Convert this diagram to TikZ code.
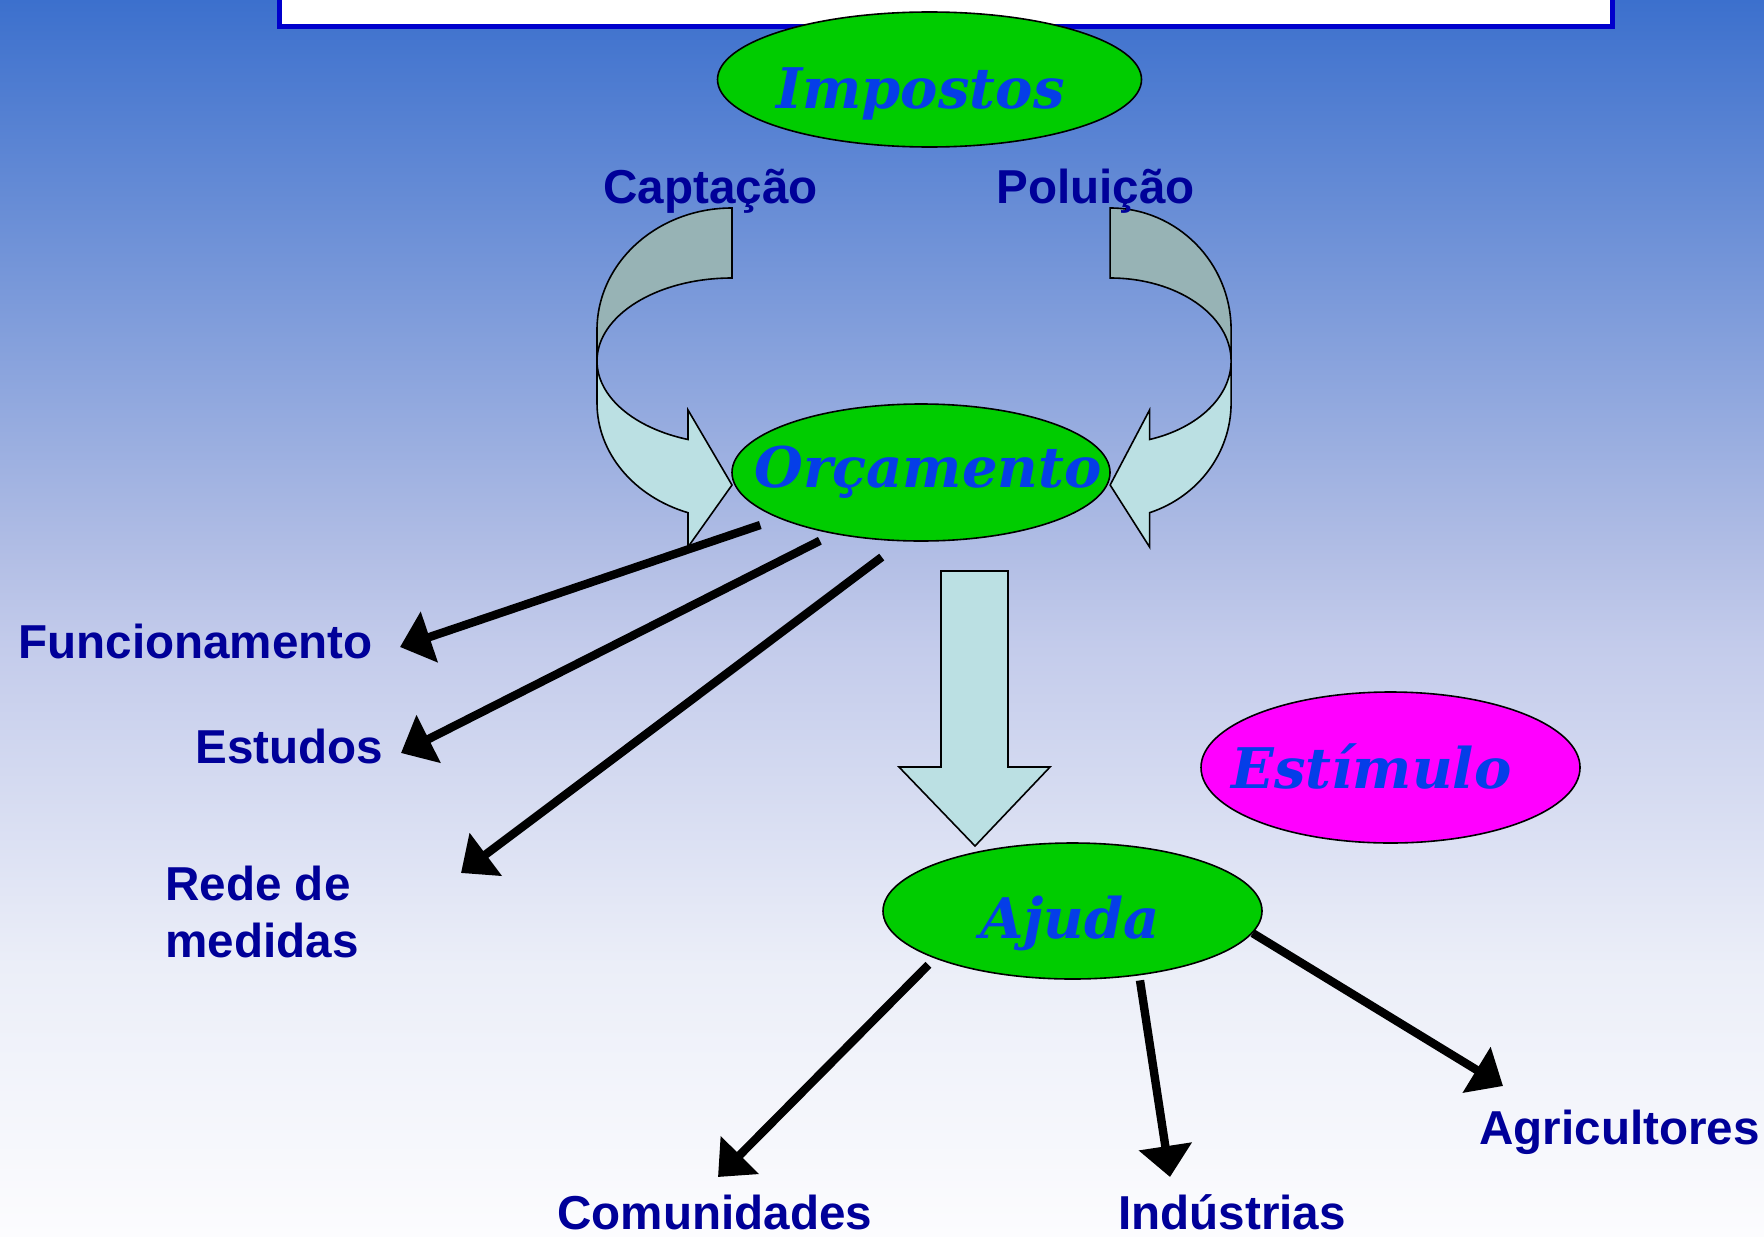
\documentclass[tikz,border=0pt]{standalone}
\usepackage{fontspec}
\usepackage{tikz}
\usetikzlibrary{shapes.geometric,arrows.meta}

\newfontfamily\rotfont{Liberation Sans}
\newfontfamily\bolhafont{DejaVu Serif}

\definecolor{bgA}{RGB}{60,112,205}
\definecolor{bgB}{RGB}{178,190,229}
\definecolor{bgC}{RGB}{195,203,235}
\definecolor{bgD}{RGB}{235,238,248}
\definecolor{bgE}{RGB}{252,252,254}
\definecolor{borda}{RGB}{0,0,204}
\definecolor{verde}{RGB}{0,204,0}
\definecolor{rosa}{RGB}{255,0,255}
\definecolor{claro}{RGB}{187,224,227}
\definecolor{escuro}{RGB}{151,179,181}
\definecolor{azulrot}{RGB}{0,0,153}
\definecolor{azultxt}{RGB}{5,62,232}

\pgfdeclareverticalshading{fundo}{100bp}{color(0bp)=(bgE); color(25bp)=(bgE); color(36bp)=(bgD); color(49bp)=(bgC); color(52.5bp)=(bgB); color(75bp)=(bgA); color(100bp)=(bgA)}

% seta curva (lado esquerdo), o lado direito e espelhado
\newcommand{\setacurva}{%
  \filldraw[fill=escuro] (732,208) .. controls (657.4,208) and (597,262.6) .. (597,330) -- (597,361) .. controls (597,315.2) and (657.4,278) .. (732,278) -- cycle;
  \filldraw[fill=claro] (597,361) .. controls (597,396.4) and (633.5,428) .. (688,439.5) -- (688,410) -- (732,485) -- (688,547) -- (688,512.7) .. controls (633.5,496.6) and (597,452.5) .. (597,403) -- cycle;
}

\tikzset{
  bolha/.style={ellipse, draw=black, line width=0.8pt, inner sep=0pt},
  txt/.style={font=\bolhafont\bfseries\itshape\fontsize{28}{34}\selectfont, text=azultxt, inner sep=0pt, anchor=base},
  rot/.style={font=\rotfont\bfseries\fontsize{23.8}{28.5}\selectfont, text=azulrot, inner sep=0pt, anchor=base west, align=left},
  seta/.style={line width=4.2pt, -{Triangle[length=15.5pt,width=26pt]}}
}

\begin{document}
\begin{tikzpicture}[x=0.5pt, y=-0.5pt]
        \useasboundingbox (0,0) rectangle (1764,1236);
        \shade[shading=fundo] (0,0) rectangle (1764,1236);
        \filldraw[fill=white, draw=borda, line width=2.5pt] (279.5,-20) rectangle (1612.5,26.5);

        \begin{scope}[line width=0.8pt]
            \setacurva
        \end{scope}
        \begin{scope}[shift={(1766,0)}, xscale=-0.896, line width=0.8pt]
            \setacurva
        \end{scope}
        \filldraw[fill=claro, line width=0.8pt] (941,571) -- (1008,571) -- (1008,767) -- (1050,767) -- (975,846) -- (899,767) -- (941,767) -- cycle;

        \node[bolha, fill=verde, minimum width=212pt, minimum height=67.5pt] at (929.5,79.5) (imp) {};
        \node[bolha, fill=verde, minimum width=189pt, minimum height=68.5pt] at (921,472.5) (orc) {};
        \node[bolha, fill=verde, minimum width=189.5pt, minimum height=68pt] at (1072.5,911) (ajuda) {};
        \node[bolha, fill=rosa, minimum width=189.5pt, minimum height=75.5pt] at (1390.5,767.5) (estim) {};

        \node[txt] at (920.5,108) (timp) {Impostos};
        \node[txt] at (928,487) (torc) {Orçamento};
        \node[txt] at (1070,938) (tajuda) {Ajuda};
        \node[txt] at (1371.5,788) (testim) {Estímulo};

        \node[rot] at (603,203) (capt) {Captação};
        \node[rot] at (996,203) (polu) {Poluição};
        \node[rot] at (18,658) (func) {Funcionamento};
        \node[rot] at (195,763) (estu) {Estudos};
        \node[rot] at (165,957) (rede) {Rede de\\medidas};
        \node[rot] at (557,1229) (comu) {Comunidades};
        \node[rot] at (1118,1229) (indu) {Indústrias};
        \node[rot] at (1479,1144) (agri) {Agricultores};

        \coordinate (tFunc) at (400,647);
        \coordinate (tEstu) at (401,753);
        \coordinate (tRede) at (461,873);
        \coordinate (tComu) at (718,1177);
        \coordinate (tIndu) at (1170,1177);
        \coordinate (tAgri) at (1503,1086);

        \path[seta]
        (orc.198) edge [shorten <=10pt] (tFunc)
        (orc.215) edge [shorten <=7.5pt] (tEstu)
        (orc.255) edge [shorten <=13pt] (tRede)
        (ajuda.199) edge [shorten <=4.5pt] (tComu)
        (ajuda.316) edge [shorten <=2.5pt] (tIndu)
        (ajuda.353) edge (tAgri)
        ;
\end{tikzpicture}
\end{document}
